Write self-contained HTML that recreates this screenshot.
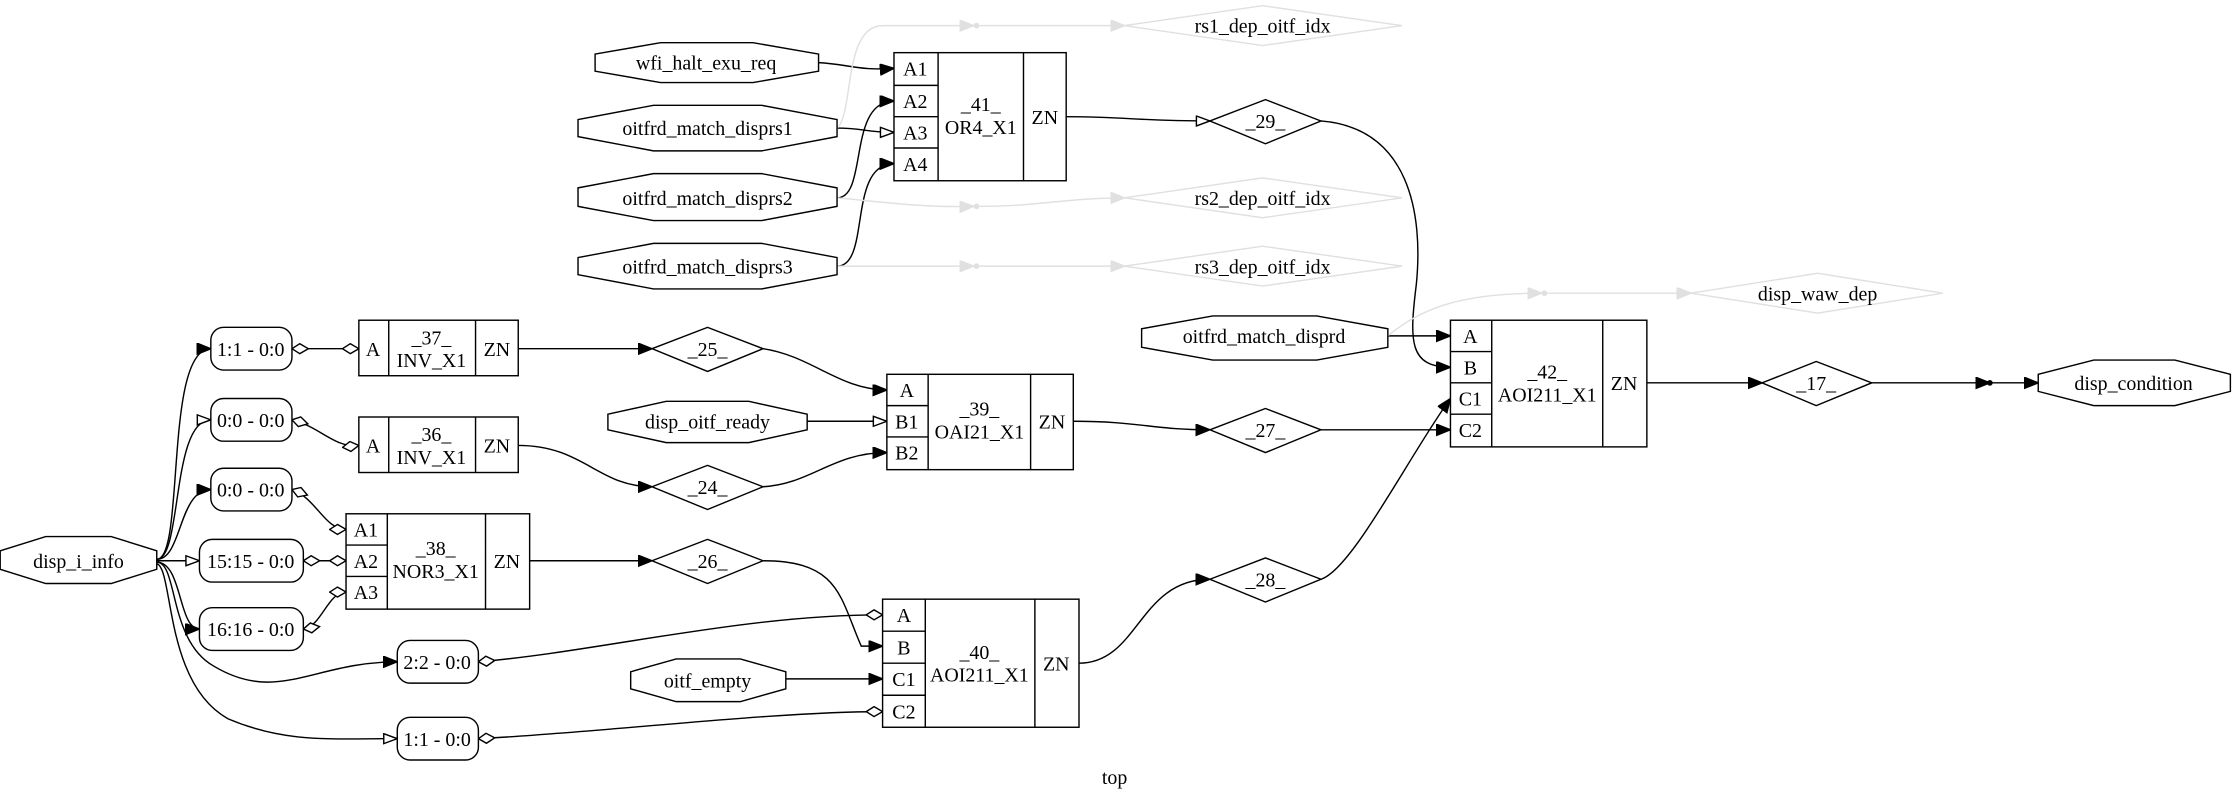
<!DOCTYPE html>
<html><head><meta charset="utf-8"><style>
html,body{margin:0;padding:0;background:#fff;}
svg{display:block;}
text{font-family:"Liberation Serif",serif;font-size:14px;fill:#000;}
</style></head><body>
<svg width="2232" height="797" viewBox="0 0 1568 560" xmlns="http://www.w3.org/2000/svg">
<defs>
<marker id="f" markerUnits="userSpaceOnUse" markerWidth="12" markerHeight="10" refX="10" refY="4" orient="auto"><path d="M0,0 L10,4 L0,8 Z" fill="#000" stroke="#000"/></marker>
<marker id="o" markerUnits="userSpaceOnUse" markerWidth="12" markerHeight="10" refX="10" refY="4" orient="auto"><path d="M0.5,0.5 L10,4 L0.5,7.5 Z" fill="#fff" stroke="#000"/></marker>
<marker id="g" markerUnits="userSpaceOnUse" markerWidth="12" markerHeight="10" refX="10" refY="4" orient="auto"><path d="M0,0 L10,4 L0,8 Z" fill="#e0e0e0" stroke="#e0e0e0"/></marker>
<marker id="d" markerUnits="userSpaceOnUse" markerWidth="14" markerHeight="10" refX="12" refY="4" orient="auto"><path d="M0.5,4 L6,0.5 L12,4 L6,7.5 Z" fill="#fff" stroke="#000"/></marker>
<marker id="ds" markerUnits="userSpaceOnUse" markerWidth="14" markerHeight="10" refX="0.5" refY="4" orient="auto"><path d="M0.5,4 L6,0.5 L12,4 L6,7.5 Z" fill="#fff" stroke="#000"/></marker>
</defs>
<g fill="none" stroke="#000" stroke-width="1">
<path d="M110,393 C130,393 115,245 148,245" marker-end="url(#f)"/>
<path d="M110,393 C128,393 120,295 148,295" marker-end="url(#o)"/>
<path d="M110,393 C128,393 125,344 148,344" marker-end="url(#f)"/>
<path d="M110,394 L140,394" marker-end="url(#o)"/>
<path d="M110,395 C128,395 125,442 140,442" marker-end="url(#f)"/>
<path d="M110,395 C125,395 118,450 150,468 C195,495 220,465 279,465" marker-end="url(#f)"/>
<path d="M110,396 C122,400 115,480 160,505 C200,522 230,519 279,519" marker-end="url(#o)"/>
<path d="M205,245 L252,245" marker-start="url(#ds)" marker-end="url(#d)"/>
<path d="M205,295 C225,300 235,315 252,313" marker-start="url(#ds)" marker-end="url(#d)"/>
<path d="M205,344 C222,350 228,372 243,372" marker-start="url(#ds)" marker-end="url(#d)"/>
<path d="M213,394 L243,394" marker-start="url(#ds)" marker-end="url(#d)"/>
<path d="M213,442 C226,440 230,416 243,416" marker-start="url(#ds)" marker-end="url(#d)"/>
<path d="M336,465 C420,458 520,432 620,432" marker-start="url(#ds)" marker-end="url(#d)"/>
<path d="M336,519 C420,515 540,500 620,500" marker-start="url(#ds)" marker-end="url(#d)"/>
<path d="M364,245 L458,245" marker-end="url(#f)"/>
<path d="M364,313 C410,313 420,342 458,342" marker-end="url(#f)"/>
<path d="M372,394 L458,394" marker-end="url(#f)"/>
<path d="M536,245 C570,250 590,274 623,274" marker-end="url(#f)"/>
<path d="M567,296 L623,296" marker-end="url(#o)"/>
<path d="M536,342 C570,340 585,318 623,318" marker-end="url(#f)"/>
<path d="M536,394 C590,394 590,420 605,454 L620,454" marker-end="url(#f)"/>
<path d="M552,477 L620,477" marker-end="url(#f)"/>
<path d="M754,296 C800,296 810,302 850,302" marker-end="url(#f)"/>
<path d="M758,466 C800,466 800,407 850,407" marker-end="url(#f)"/>
<path d="M749,82 C790,82 800,85 850,85" marker-end="url(#o)"/>
<path d="M575,44 C595,45 605,50 628,48" marker-end="url(#f)"/>
<path d="M588,90 C605,90 610,93 628,93" marker-end="url(#o)"/>
<path d="M588,139 C610,139 595,71 628,71" marker-end="url(#f)"/>
<path d="M588,187 C612,187 595,115 628,115" marker-end="url(#f)"/>
<path d="M928,85 C990,90 1000,150 995,200 C990,240 990,258 1019,258" marker-end="url(#f)"/>
<path d="M975,236 L1019,236" marker-end="url(#f)"/>
<path d="M928,302 C970,302 990,302 1019,302" marker-end="url(#f)"/>
<path d="M928,407 C950,400 990,320 1019,280" marker-end="url(#f)"/>
<path d="M1157,269 L1238,269" marker-end="url(#f)"/>
<path d="M1315,269 L1398,269" marker-end="url(#f)"/>
<path d="M1398,269 L1432,269" marker-end="url(#f)"/>
</g>
<circle cx="1398" cy="269" r="2" fill="#000"/>
<g fill="none" stroke="#e0e0e0">
<path d="M588,90 C600,80 592,18 620,18 L684,18" marker-end="url(#g)"/>
<path d="M688,18 L790,18" marker-end="url(#g)"/>
<path d="M588,139 C620,142 650,146 684,145" marker-end="url(#g)"/>
<path d="M688,145 C730,145 750,139 790,139" marker-end="url(#g)"/>
<path d="M588,187 L684,187" marker-end="url(#g)"/>
<path d="M688,187 L790,187" marker-end="url(#g)"/>
<path d="M975,236 C1000,215 1030,206 1083,206" marker-end="url(#g)"/>
<path d="M1087,206 L1188,206" marker-end="url(#g)"/>
<polygon points="790,18 887,4 985,18 887,32"/>
<polygon points="790,139 887,125 985,139 887,153"/>
<polygon points="790,187 887,173 985,187 887,201"/>
<polygon points="1188,206 1277,192 1365,206 1277,220"/>
</g>
<g fill="#e0e0e0"><circle cx="686" cy="18" r="2"/><circle cx="686" cy="145" r="2"/><circle cx="686" cy="187" r="2"/><circle cx="1085" cy="206" r="2"/></g>
<g text-anchor="middle">
<text x="887" y="23">rs1_dep_oitf_idx</text>
<text x="887" y="144">rs2_dep_oitf_idx</text>
<text x="887" y="192">rs3_dep_oitf_idx</text>
<text x="1277" y="211">disp_waw_dep</text>
</g>
<g fill="#fff" stroke="#000">
<polygon points="0,387 32,377 78,377 110,387 110,400 78,410 32,410 0,400"/>
<polygon points="427,291 468,282 526,282 567,291 567,302 526,311 468,311 427,302"/>
<polygon points="443,472 475,463 520,463 552,472 552,484 520,493 475,493 443,484"/>
<polygon points="418,38 464,30 529,30 575,38 575,50 529,58 464,58 418,50"/>
<polygon points="406,84 459,74 535,74 588,84 588,96 535,106 459,106 406,96"/>
<polygon points="406,132 459,122 535,122 588,132 588,145 535,155 459,155 406,145"/>
<polygon points="406,181 459,171 535,171 588,181 588,193 535,203 459,203 406,193"/>
<polygon points="802,231 852,222 925,222 975,231 975,244 925,253 852,253 802,244"/>
<polygon points="1432,263 1471,253 1528,253 1567,263 1567,275 1528,285 1471,285 1432,275"/>
<rect x="148" y="230" width="57" height="30" rx="9"/>
<rect x="148" y="280" width="57" height="30" rx="9"/>
<rect x="148" y="329" width="57" height="30" rx="9"/>
<rect x="140" y="379" width="73" height="30" rx="9"/>
<rect x="140" y="427" width="73" height="30" rx="9"/>
<rect x="279" y="450" width="57" height="30" rx="9"/>
<rect x="279" y="504" width="57" height="30" rx="9"/>
<polygon points="458,245 497,230 536,245 497,261"/>
<polygon points="458,342 497,327 536,342 497,358"/>
<polygon points="458,394 497,379 536,394 497,410"/>
<polygon points="850,85 889,70 928,85 889,101"/>
<polygon points="850,302 889,287 928,302 889,318"/>
<polygon points="850,407 889,392 928,407 889,423"/>
<polygon points="1238,269 1276,254 1315,269 1276,285"/>
<rect x="252" y="225" width="112" height="39"/><path d="M273,225V264M334,225V264"/>
<rect x="252" y="293" width="112" height="39"/><path d="M273,293V332M334,293V332"/>
<rect x="243" y="361" width="129" height="67"/><path d="M272,361V428M341,361V428M243,383H272M243,405H272"/>
<rect x="623" y="263" width="131" height="67"/><path d="M652,263V330M724,263V330M623,285H652M623,307H652"/>
<rect x="620" y="421" width="138" height="90"/><path d="M650,421V511M727,421V511M620,443.5H650M620,466H650M620,488.5H650"/>
<rect x="628" y="37" width="121" height="90"/><path d="M659,37V127M719,37V127M628,60H659M628,82H659M628,104H659"/>
<rect x="1019" y="225" width="138" height="89"/><path d="M1048,225V314M1126,225V314M1019,247H1048M1019,269H1048M1019,291H1048"/>
</g>
<g text-anchor="middle">
<text x="55" y="399">disp_i_info</text>
<text x="497" y="301">disp_oitf_ready</text>
<text x="497" y="483">oitf_empty</text>
<text x="496" y="49">wfi_halt_exu_req</text>
<text x="497" y="95">oitfrd_match_disprs1</text>
<text x="497" y="144">oitfrd_match_disprs2</text>
<text x="497" y="192">oitfrd_match_disprs3</text>
<text x="888" y="241">oitfrd_match_disprd</text>
<text x="1499" y="274">disp_condition</text>
<text x="176" y="250">1:1 - 0:0</text>
<text x="176" y="300">0:0 - 0:0</text>
<text x="176" y="349">0:0 - 0:0</text>
<text x="176" y="399">15:15 - 0:0</text>
<text x="176" y="447">16:16 - 0:0</text>
<text x="307" y="470">2:2 - 0:0</text>
<text x="307" y="524">1:1 - 0:0</text>
<text x="497" y="250">_25_</text>
<text x="497" y="347">_24_</text>
<text x="497" y="399">_26_</text>
<text x="889" y="90">_29_</text>
<text x="889" y="307">_27_</text>
<text x="889" y="412">_28_</text>
<text x="1276" y="274">_17_</text>
<text x="262" y="250">A</text><text x="303" y="242">_37_</text><text x="303" y="258">INV_X1</text><text x="349" y="250">ZN</text>
<text x="262" y="318">A</text><text x="303" y="310">_36_</text><text x="303" y="326">INV_X1</text><text x="349" y="318">ZN</text>
<text x="257" y="377">A1</text><text x="257" y="399">A2</text><text x="257" y="421">A3</text>
<text x="306" y="390">_38_</text><text x="306" y="406">NOR3_X1</text><text x="356" y="399">ZN</text>
<text x="637" y="279">A</text><text x="637" y="301">B1</text><text x="637" y="323">B2</text>
<text x="688" y="292">_39_</text><text x="688" y="308">OAI21_X1</text><text x="739" y="301">ZN</text>
<text x="635" y="437">A</text><text x="635" y="460">B</text><text x="635" y="482">C1</text><text x="635" y="505">C2</text>
<text x="688" y="463">_40_</text><text x="688" y="479">AOI211_X1</text><text x="742" y="471">ZN</text>
<text x="643" y="53">A1</text><text x="643" y="76">A2</text><text x="643" y="98">A3</text><text x="643" y="120">A4</text>
<text x="689" y="78">_41_</text><text x="689" y="94">OR4_X1</text><text x="734" y="87">ZN</text>
<text x="1033" y="241">A</text><text x="1033" y="263">B</text><text x="1033" y="285">C1</text><text x="1033" y="307">C2</text>
<text x="1087" y="266">_42_</text><text x="1087" y="282">AOI211_X1</text><text x="1141" y="274">ZN</text>
<text x="783" y="551">top</text>
</g>
</svg>
</body></html>
